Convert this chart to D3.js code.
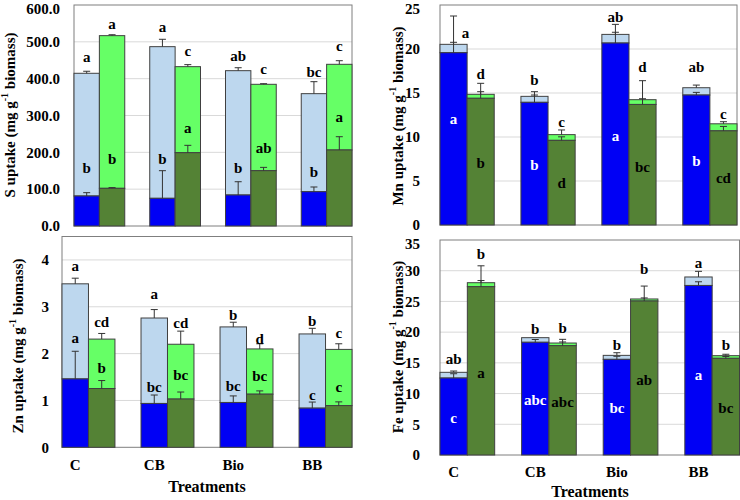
<!DOCTYPE html>
<html><head><meta charset="utf-8">
<script src="https://cdn.jsdelivr.net/npm/d3@7"></script>
<style>
html,body{margin:0;padding:0;background:#fff;}
svg text{font-family:"Liberation Serif","Times New Roman",serif;font-weight:bold;}
</style></head>
<body><svg id="chart" width="740" height="500"></svg>
<script>
const treatments = ["C", "CB", "Bio", "BB"];

// ---- S uptake ----
const S_blueDark = [81.5, 75.2, 84.2, 93.2];
const S_blueDarkErr = [9, 75, 36, 12.7];
const S_blueTotal = [414.6, 486.9, 421.7, 359.3];
const S_blueTotalErr = [5.5, 20, 8, 32.5];
const S_greenDark = [102.3, 199, 150.2, 206.4];
const S_greenDarkErr = [2, 20, 9, 36];
const S_greenTotal = [516.8, 432.6, 384.7, 439];
const S_greenTotalErr = [2.5, 5.5, 1.7, 9.8];
const S_blueTopLetters = ["a", "a", "ab", "bc"];
const S_greenTopLetters = ["a", "c", "c", "c"];
const S_blueInLetters = ["b", "b", "b", "b"];
const S_greenInLetters = ["b", "a", "ab", "a"];
const S_blueTopAt = [458, 541, 462, 419];
const S_greenTopAt = [548, 476, 425, 490];
const S_blueInAt = [157, 183, 157, 147];
const S_greenInAt = [183, 267, 213, 297];
const S_ticks = [0, 100, 200, 300, 400, 500, 600];

// ---- Mn uptake ----
const Mn_blueDark = [19.58, 13.94, 20.68, 14.77];
const Mn_blueDarkErr = [1.18, 0.83, 1.22, 0.3];
const Mn_blueTotal = [20.53, 14.62, 21.66, 15.6];
const Mn_blueTotalErr = [3.22, 0.53, 1.14, 0.3];
const Mn_greenDark = [14.4, 9.62, 13.7, 10.7];
const Mn_greenDarkErr = [0.75, 0.4, 0.65, 0.5];
const Mn_greenTotal = [14.85, 10.27, 14.24, 11.5];
const Mn_greenTotalErr = [1.25, 0.53, 2.16, 0.24];
const Mn_blueTopLetters = ["a", "b", "ab", "ab"];
const Mn_greenTopLetters = ["d", "c", "d", "c"];
const Mn_blueInLetters = ["a", "b", "a", "b"];
const Mn_greenInLetters = ["b", "d", "bc", "cd"];
const Mn_blueTopAt = [21.8, 16.5, 23.6, 17.9];
const Mn_greenTopAt = [17.2, 11.7, 18.0, 12.6];
const Mn_blueInAt = [12.0, 6.8, 10.15, 7.27];
const Mn_greenInAt = [7.0, 4.74, 6.63, 5.3];
const Mn_ticks = [0, 5, 10, 15, 20, 25];

// ---- Zn uptake ----
const Zn_blueDark = [1.46, 0.936, 0.957, 0.836];
const Zn_blueDarkErr = [0.59, 0.18, 0.14, 0.13];
const Zn_blueTotal = [3.49, 2.76, 2.57, 2.42];
const Zn_blueTotalErr = [0.12, 0.18, 0.10, 0.12];
const Zn_greenDark = [1.255, 1.03, 1.134, 0.89];
const Zn_greenDarkErr = [0.17, 0.15, 0.07, 0.08];
const Zn_greenTotal = [2.31, 2.2, 2.10, 2.09];
const Zn_greenTotalErr = [0.12, 0.28, 0.11, 0.12];
const Zn_blueTopLetters = ["a", "a", "b", "b"];
const Zn_greenTopLetters = ["cd", "cd", "d", "c"];
const Zn_blueInLetters = ["a", "bc", "bc", "c"];
const Zn_greenInLetters = ["b", "bc", "bc", "c"];
const Zn_blueTopAt = [3.86, 3.28, 2.83, 2.69];
const Zn_greenTopAt = [2.67, 2.66, 2.32, 2.45];
const Zn_blueInAt = [2.33, 1.28, 1.30, 1.12];
const Zn_greenInAt = [1.70, 1.54, 1.52, 1.28];
const Zn_ticks = [0, 1, 2, 3, 4];

// ---- Fe uptake ----
const Fe_blueDark = [12.53, 18.35, 15.57, 27.6];
const Fe_blueDarkErr = [0.7, 0.45, 0.5, 0.6];
const Fe_blueTotal = [13.46, 19.1, 16.22, 28.98];
const Fe_blueTotalErr = [0.21, 0, 0.43, 0.92];
const Fe_greenDark = [27.4, 17.8, 25.07, 15.74];
const Fe_greenDarkErr = [1.0, 0.6, 0.5, 0.3];
const Fe_greenTotal = [28.05, 18.23, 25.4, 16.17];
const Fe_greenTotalErr = [2.75, 0.6, 2.1, 0.23];
const Fe_blueTopLetters = ["ab", "b", "b", "a"];
const Fe_greenTopLetters = ["b", "b", "b", "b"];
const Fe_blueInLetters = ["c", "abc", "bc", "a"];
const Fe_greenInLetters = ["a", "abc", "ab", "bc"];
const Fe_blueTopAt = [15.58, 20.5, 17.9, 31.3];
const Fe_greenTopAt = [32.7, 20.6, 30.2, 17.9];
const Fe_blueInAt = [6.07, 8.95, 7.6, 13.0];
const Fe_greenInAt = [13.4, 8.57, 12.2, 7.6];
const Fe_ticks = [0, 5, 10, 15, 20, 25, 30, 35];

const colors = {blueDark: "#0000f5", blueLight: "#bdd7ee", greenDark: "#548235", greenLight: "#66ff66"};

const panels = [
  {name: "S", x0: 74, x1: 352, yTop: 5, yBot: 226, max: 600, ticks: S_ticks, fmt: d3.format(".1f"), tickPad: 14,
   titleX: 10, titleY: 115, xlabels: false, blueInColor: "#000",
   bd: S_blueDark, bde: S_blueDarkErr, bt: S_blueTotal, bte: S_blueTotalErr,
   gd: S_greenDark, gde: S_greenDarkErr, gt: S_greenTotal, gte: S_greenTotalErr,
   btl: S_blueTopLetters, gtl: S_greenTopLetters, bil: S_blueInLetters, gil: S_greenInLetters,
   bta: S_blueTopAt, gta: S_greenTopAt, bia: S_blueInAt, gia: S_greenInAt},
  {name: "Mn", x0: 440, x1: 737, yTop: 5, yBot: 225, max: 25, ticks: Mn_ticks, fmt: d3.format("d"), tickPad: 20,
   titleX: 398, titleY: 116, xlabels: false, blueInColor: "#fff", firstDx: 12,
   bd: Mn_blueDark, bde: Mn_blueDarkErr, bt: Mn_blueTotal, bte: Mn_blueTotalErr,
   gd: Mn_greenDark, gde: Mn_greenDarkErr, gt: Mn_greenTotal, gte: Mn_greenTotalErr,
   btl: Mn_blueTopLetters, gtl: Mn_greenTopLetters, bil: Mn_blueInLetters, gil: Mn_greenInLetters,
   bta: Mn_blueTopAt, gta: Mn_greenTopAt, bia: Mn_blueInAt, gia: Mn_greenInAt},
  {name: "Zn", x0: 62, x1: 352, yTop: 236.5, yBot: 447.3, max: 4.5, ticks: Zn_ticks, fmt: d3.format("d"), tickPad: 13,
   titleX: 18, titleY: 346, xlabels: true, labelY: 470, treatX: 207, treatY: 492, blueInColor: "#000",
   bd: Zn_blueDark, bde: Zn_blueDarkErr, bt: Zn_blueTotal, bte: Zn_blueTotalErr,
   gd: Zn_greenDark, gde: Zn_greenDarkErr, gt: Zn_greenTotal, gte: Zn_greenTotalErr,
   btl: Zn_blueTopLetters, gtl: Zn_greenTopLetters, bil: Zn_blueInLetters, gil: Zn_greenInLetters,
   bta: Zn_blueTopAt, gta: Zn_greenTopAt, bia: Zn_blueInAt, gia: Zn_greenInAt},
  {name: "Fe", x0: 440, x1: 739.5, yTop: 240, yBot: 455, max: 35, ticks: Fe_ticks, fmt: d3.format("d"), tickPad: 20,
   titleX: 398, titleY: 347, xlabels: true, labelY: 477, treatX: 590, treatY: 497, blueInColor: "#fff",
   bd: Fe_blueDark, bde: Fe_blueDarkErr, bt: Fe_blueTotal, bte: Fe_blueTotalErr,
   gd: Fe_greenDark, gde: Fe_greenDarkErr, gt: Fe_greenTotal, gte: Fe_greenTotalErr,
   btl: Fe_blueTopLetters, gtl: Fe_greenTopLetters, bil: Fe_blueInLetters, gil: Fe_greenInLetters,
   bta: Fe_blueTopAt, gta: Fe_greenTopAt, bia: Fe_blueInAt, gia: Fe_greenInAt}
];

const svg = d3.select("#chart");

panels.forEach(p => {
  const g = svg.append("g");
  const x = d3.scaleBand().domain(treatments).range([p.x0, p.x1]).paddingInner(0.33).paddingOuter(0);
  const xs = d3.scaleBand().domain(["blue", "green"]).range([0, x.bandwidth()]);
  const y = d3.scaleLinear().domain([0, p.max]).range([p.yBot, p.yTop]);

  g.selectAll("line.grid").data(p.ticks.filter(t => t > 0 && t < p.max)).join("line")
    .attr("x1", p.x0).attr("x2", p.x1).attr("y1", d => y(d)).attr("y2", d => y(d))
    .attr("stroke", "#d9d9d9").attr("stroke-width", 1);

  g.append("rect").attr("x", p.x0).attr("y", p.yTop).attr("width", p.x1 - p.x0).attr("height", p.yBot - p.yTop)
    .attr("fill", "none").attr("stroke", "#7f7f7f").attr("stroke-width", 1);

  const ax = g.append("g").attr("transform", `translate(${p.x0},0)`)
    .call(d3.axisLeft(y).tickValues(p.ticks).tickFormat(p.fmt).tickSize(0).tickPadding(p.tickPad));
  ax.select(".domain").remove();
  ax.selectAll("text").attr("font-size", 15).attr("fill", "#000")
    .style("font-family", '"Liberation Serif",serif').style("font-weight", "bold");
  // keep the top tick label fully inside the picture
  ax.selectAll(".tick").filter(d => d === p.max).select("text").attr("dy", "0.55em");

  const title = g.append("text").attr("transform", `translate(${p.titleX},${p.titleY}) rotate(-90)`)
    .attr("text-anchor", "middle").attr("dominant-baseline", "central").attr("font-size", 15).attr("fill", "#000");
  title.append("tspan").text(p.name + " uptake (mg g");
  title.append("tspan").attr("font-size", 10).attr("dy", -6).text("-1");
  title.append("tspan").attr("dy", 6).text(" biomass)");

  const series = [
    {key: "blue", dark: p.bd, de: p.bde, tot: p.bt, te: p.bte, dc: colors.blueDark, lc: colors.blueLight,
     tl: p.btl, il: p.bil, ta: p.bta, ia: p.bia, ic: p.blueInColor},
    {key: "green", dark: p.gd, de: p.gde, tot: p.gt, te: p.gte, dc: colors.greenDark, lc: colors.greenLight,
     tl: p.gtl, il: p.gil, ta: p.gta, ia: p.gia, ic: "#000"}
  ];

  series.forEach(s => {
    treatments.forEach((t, i) => {
      const bx = x(t) + xs(s.key), bw = xs.bandwidth(), cx = bx + bw / 2;
      g.append("rect").attr("x", bx).attr("y", y(s.tot[i])).attr("width", bw).attr("height", y(s.dark[i]) - y(s.tot[i]))
        .attr("fill", s.lc).attr("stroke", "#404040").attr("stroke-width", 1);
      g.append("rect").attr("x", bx).attr("y", y(s.dark[i])).attr("width", bw).attr("height", y(0) - y(s.dark[i]))
        .attr("fill", s.dc).attr("stroke", "#404040").attr("stroke-width", 1);
      const eb = (v, e) => {
        if (!e) return;
        g.append("line").attr("x1", cx).attr("x2", cx).attr("y1", y(v)).attr("y2", y(v + e)).attr("stroke", "#333").attr("stroke-width", 1);
        g.append("line").attr("x1", cx - 3.5).attr("x2", cx + 3.5).attr("y1", y(v + e)).attr("y2", y(v + e)).attr("stroke", "#333").attr("stroke-width", 1);
      };
      eb(s.dark[i], s.de[i]);
      eb(s.tot[i], s.te[i]);
      const dx = (s.key === "blue" && i === 0 && p.firstDx) ? p.firstDx : 0;
      g.append("text").attr("x", cx + dx).attr("y", y(s.ta[i])).attr("text-anchor", "middle").attr("dominant-baseline", "central")
        .attr("font-size", 15).attr("fill", "#000").text(s.tl[i]);
      g.append("text").attr("x", cx).attr("y", y(s.ia[i])).attr("text-anchor", "middle").attr("dominant-baseline", "central")
        .attr("font-size", 15).attr("fill", s.ic).text(s.il[i]);
    });
  });

  if (p.xlabels) {
    g.selectAll("text.xl").data(treatments).join("text")
      .attr("x", d => x(d) + xs("blue") + xs.bandwidth() / 2).attr("y", p.labelY)
      .attr("text-anchor", "middle").attr("font-size", 15).attr("fill", "#000").text(d => d);
    g.append("text").attr("x", p.treatX).attr("y", p.treatY).attr("text-anchor", "middle")
      .attr("font-size", 16).attr("fill", "#000").text("Treatments");
  }
});
</script>
</body></html>
